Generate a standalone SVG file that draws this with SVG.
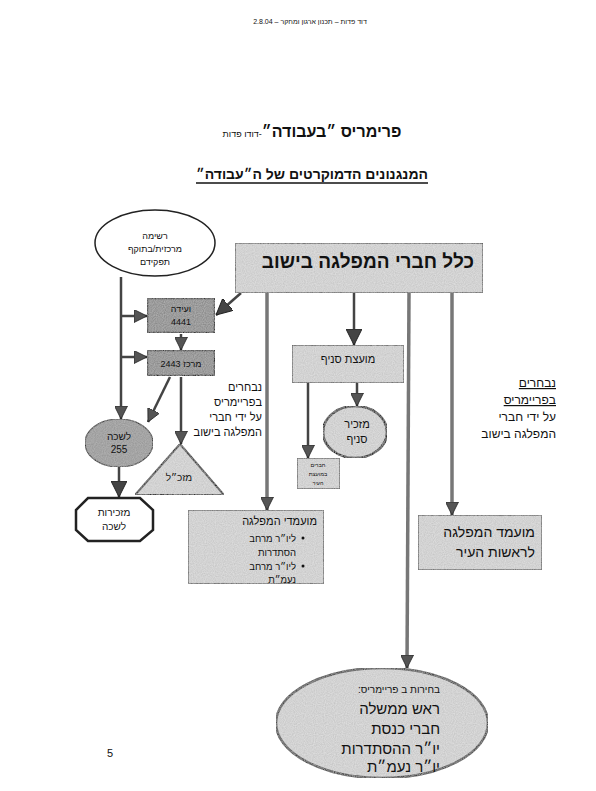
<svg xmlns="http://www.w3.org/2000/svg" width="596" height="791" viewBox="0 0 596 791">
<style>
text{font-family:"Liberation Sans","DejaVu Sans",sans-serif;fill:#111;}
.he{direction:rtl;}
.box{fill:#dcdcdc;stroke:#333;stroke-width:1.2;}
.dark{fill:#8c8c8c;stroke:#2a2a2a;stroke-width:2.5;}
.ln{fill:none;stroke:#444;stroke-width:2.5;}
.gl{fill:none;stroke:#777;stroke-width:3.5;}
</style>
<defs>
<marker id="ah" viewBox="0 0 10 10" refX="10" refY="5" markerUnits="userSpaceOnUse" markerWidth="13" markerHeight="13" orient="auto"><path d="M0,0 L10,5 L0,10 z" fill="#555" stroke="#222" stroke-width="0.6"/></marker>
<marker id="ahb" viewBox="0 0 10 10" refX="10" refY="5" markerUnits="userSpaceOnUse" markerWidth="16" markerHeight="16" orient="auto"><path d="M0,0 L10,5 L0,10 z" fill="#444" stroke="#222" stroke-width="0.6"/></marker>
<filter id="grain" x="0" y="0" width="1" height="1"><feTurbulence type="fractalNoise" baseFrequency="0.9" numOctaves="1" result="n"/><feColorMatrix in="n" type="matrix" values="0 0 0 0 0.5 0 0 0 0 0.5 0 0 0 0 0.5 0 0 0 -1.2 0.9" result="g"/><feComposite in="g" in2="SourceGraphic" operator="in" result="gg"/><feMerge><feMergeNode in="SourceGraphic"/><feMergeNode in="gg"/></feMerge></filter>
</defs>
<rect width="596" height="791" fill="#fff"/>

<g id="header">
<text class="he" x="310" y="24" font-size="7" text-anchor="middle" fill="#666">דוד פדות – תכנון ארגון ומחקר – 2.8.04</text>
</g>
<g id="title">
<text class="he" x="312" y="137" text-anchor="middle" font-size="16" font-weight="bold">פרימריס ״בעבודה״<tspan font-size="9" font-weight="normal">-דודו פדות</tspan></text>
<text class="he" x="312" y="179" text-anchor="middle" font-size="14" font-weight="bold">המנגנונים הדמוקרטים של ה״עבודה״</text>
<line x1="196" y1="183" x2="428" y2="183" stroke="#111" stroke-width="1.3"/>
</g>

<g id="connectors">
<line class="ln" x1="121" y1="277" x2="121" y2="419" marker-end="url(#ah)"/>
<line class="ln" x1="121" y1="316" x2="147" y2="316" marker-end="url(#ah)"/>
<line class="ln" x1="121" y1="357" x2="147" y2="357" marker-end="url(#ah)"/>
<line class="ln" x1="181" y1="334" x2="181" y2="350" marker-end="url(#ah)"/>
<line class="ln" x1="241" y1="293" x2="216" y2="315" stroke-width="3" marker-end="url(#ahb)"/>
<line class="ln" x1="170" y1="377" x2="148" y2="422" marker-end="url(#ah)"/>
<line class="ln" x1="181" y1="377" x2="181" y2="444" stroke="#666" stroke-width="2" marker-end="url(#ah)"/>
<line class="ln" x1="119" y1="467" x2="119" y2="497" stroke-width="3.5" marker-end="url(#ahb)"/>
<line class="gl" x1="267" y1="293" x2="267" y2="510" stroke-width="3" marker-end="url(#ah)"/>
<line class="ln" x1="354" y1="293" x2="354" y2="345" stroke-width="4" marker-end="url(#ahb)"/>
<line class="ln" x1="357" y1="383" x2="357" y2="406" stroke-width="2.5" marker-end="url(#ah)"/>
<line class="ln" x1="308" y1="383" x2="308" y2="458" stroke-width="2" marker-end="url(#ah)"/>
<line class="gl" x1="409" y1="293" x2="407" y2="668" stroke-width="4.5" marker-end="url(#ah)"/>
<line class="gl" x1="452" y1="293" x2="452" y2="515" stroke-width="3.5" marker-end="url(#ah)"/>
</g>

<g id="all-members">
<rect class="box" x="235" y="243" width="248" height="50" filter="url(#grain)"/>
<text class="he" x="474" y="268" text-anchor="start" font-size="19" font-weight="bold">כלל חברי המפלגה בישוב</text>
</g>

<g id="central-list">
<ellipse cx="155" cy="243" rx="60" ry="33" fill="#fff" stroke="#222" stroke-width="1.5"/>
<text class="he" x="155" y="239" text-anchor="middle" font-size="9">רשימה</text>
<text class="he" x="155" y="252" text-anchor="middle" font-size="9">מרכזית/בתוקף</text>
<text class="he" x="155" y="265" text-anchor="middle" font-size="9">תפקידם</text>
</g>

<g id="convention">
<rect class="dark" x="147" y="298" width="68" height="35" filter="url(#grain)"/>
<text class="he" x="181" y="312" text-anchor="middle" font-size="9">ועידה</text>
<text class="he" x="181" y="325" text-anchor="middle" font-size="9">4441</text>
</g>

<g id="center">
<rect class="dark" x="147" y="350" width="68" height="26" filter="url(#grain)"/>
<text class="he" x="181" y="367" text-anchor="middle" font-size="9">מרכז 2443</text>
</g>

<g id="bureau">
<ellipse cx="119" cy="443" rx="34" ry="24" fill="#9a9a9a" stroke="#333" stroke-width="1.2" filter="url(#grain)"/>
<text class="he" x="119" y="440" text-anchor="middle" font-size="10">לשכה</text>
<text class="he" x="119" y="453" text-anchor="middle" font-size="10">255</text>
</g>

<g id="bureau-secretariat">
<polygon points="88,498 140,498 153,510 153,530 140,541 88,541 76,530 76,510" fill="#fff" stroke="#222" stroke-width="2.5"/>
<text class="he" x="114" y="516" text-anchor="middle" font-size="10">מזכירות</text>
<text class="he" x="114" y="530" text-anchor="middle" font-size="10">לשכה</text>
</g>

<g id="secretary-general">
<polygon points="180,444 224,495 135,495" fill="#dcdcdc" stroke="#333" stroke-width="2" filter="url(#grain)"/>
<text class="he" x="179" y="481" text-anchor="middle" font-size="10">מזכ״ל</text>
</g>

<g id="left-note">
<text class="he" x="262" y="391" text-anchor="start" font-size="11">נבחרים</text>
<text class="he" x="262" y="406" text-anchor="start" font-size="11">בפריימריס</text>
<text class="he" x="262" y="421" text-anchor="start" font-size="11">על ידי חברי</text>
<text class="he" x="262" y="436" text-anchor="start" font-size="11">המפלגה בישוב</text>
</g>

<g id="branch-council">
<rect class="box" x="292" y="345" width="112" height="38" filter="url(#grain)"/>
<text class="he" x="348" y="363" text-anchor="middle" font-size="11">מועצת סניף</text>
</g>

<g id="branch-secretary">
<ellipse cx="355" cy="432" rx="32" ry="26" fill="#dcdcdc" stroke="#222" stroke-width="2.5" filter="url(#grain)"/>
<text class="he" x="357" y="428" text-anchor="middle" font-size="11">מזכיר</text>
<text class="he" x="357" y="443" text-anchor="middle" font-size="11">סניף</text>
</g>

<g id="city-council-members">
<rect class="box" x="297" y="458" width="43" height="31" stroke-width="0.8" filter="url(#grain)"/>
<text class="he" x="318" y="467" text-anchor="middle" font-size="5.5">חברים</text>
<text class="he" x="318" y="476" text-anchor="middle" font-size="5.5">במועצת</text>
<text class="he" x="318" y="485" text-anchor="middle" font-size="5.5">העיר</text>
</g>

<g id="party-candidates">
<rect class="box" x="188" y="510" width="136" height="74" filter="url(#grain)"/>
<text class="he" x="317" y="525" text-anchor="start" font-size="11">מועמדי המפלגה</text>
<circle cx="303" cy="538" r="1.5" fill="#111"/>
<text class="he" x="296" y="542" text-anchor="start" font-size="9.5">ליו״ר מרחב</text>
<text class="he" x="296" y="556" text-anchor="start" font-size="9.5">הסתדרות</text>
<circle cx="303" cy="566" r="1.5" fill="#111"/>
<text class="he" x="296" y="570" text-anchor="start" font-size="9.5">ליו״ר מרחב</text>
<text class="he" x="296" y="583" text-anchor="start" font-size="9.5">נעמ״ת</text>
</g>

<g id="right-note">
<text class="he" x="556" y="387" text-anchor="start" font-size="12" text-decoration="underline">נבחרים</text>
<text class="he" x="556" y="404" text-anchor="start" font-size="12" text-decoration="underline">בפריימריס</text>
<text class="he" x="556" y="421" text-anchor="start" font-size="12">על ידי חברי</text>
<text class="he" x="556" y="438" text-anchor="start" font-size="12">המפלגה בישוב</text>
</g>

<g id="mayor-candidate">
<rect class="box" x="418" y="515" width="124" height="55" filter="url(#grain)"/>
<text class="he" x="535" y="537" text-anchor="start" font-size="14">מועמד המפלגה</text>
<text class="he" x="535" y="557" text-anchor="start" font-size="14">לראשות העיר</text>
</g>

<g id="national-primaries">
<ellipse cx="382" cy="723" rx="106" ry="55" fill="#dcdcdc" stroke="#444" stroke-width="2.5" filter="url(#grain)"/>
<text class="he" x="440" y="693" text-anchor="start" font-size="10">בחירות ב פריימריס:</text>
<text class="he" x="440" y="714" text-anchor="start" font-size="15">ראש ממשלה</text>
<text class="he" x="440" y="734" text-anchor="start" font-size="15">חברי כנסת</text>
<text class="he" x="440" y="754" text-anchor="start" font-size="15">יו״ר ההסתדרות</text>
<text class="he" x="440" y="772" text-anchor="start" font-size="15">יו״ר נעמ״ת</text>
</g>

<g id="page-number">
<text x="110" y="757" font-size="11" text-anchor="middle">5</text>
</g>
</svg>
